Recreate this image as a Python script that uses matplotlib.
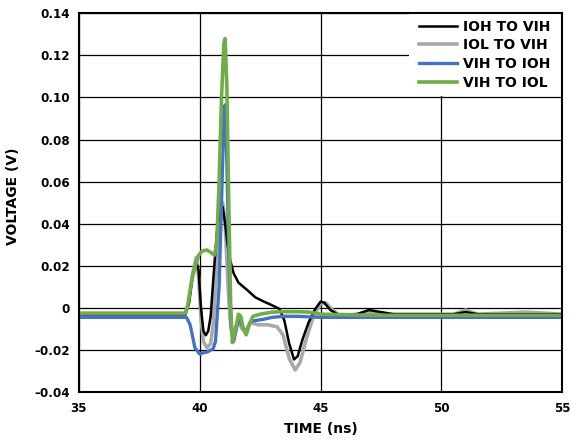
import matplotlib
matplotlib.use("Agg")
import matplotlib.pyplot as plt
from matplotlib.patches import Rectangle

# IOH TO VIH (black)
t_ioh_vih = [35, 39.4, 39.55, 39.7, 39.85, 39.95, 40.05, 40.15, 40.25, 40.35, 40.45, 40.55, 40.7,
             40.85, 40.95, 41.05, 41.15, 41.25, 41.4, 41.6, 41.95, 42.3, 42.65, 43.0, 43.3, 43.5,
             43.7, 43.9, 44.05, 44.25, 44.5, 44.75, 45.0, 45.15, 45.4, 45.7, 46.5, 47.0, 47.5, 48,
             50.5, 51, 51.5, 55]
v_ioh_vih = [-0.003, -0.003, 0.002, 0.015, 0.022, 0.018, 0.0, -0.011, -0.013, -0.011, -0.004, 0.012,
             0.035, 0.047, 0.048, 0.04, 0.03, 0.023, 0.0165, 0.012, 0.0086, 0.005, 0.003, 0.0012,
             -0.0005, -0.006, -0.017, -0.0245, -0.023, -0.015, -0.007, -0.001, 0.003, 0.0025,
             -0.001, -0.003, -0.003, -0.001, -0.002, -0.003, -0.003, -0.002, -0.003, -0.003]

# IOL TO VIH (grey)
t_iol_vih = [35, 39.4, 39.55, 39.7, 39.85, 39.95, 40.05, 40.15, 40.3, 40.45, 40.55, 40.7, 40.85,
             40.95, 41.05, 41.15, 41.25, 41.35, 41.45, 41.6, 41.75, 41.9, 42.1, 42.4, 42.8, 43.2,
             43.45, 43.7, 43.95, 44.15, 44.4, 44.7, 45.0, 45.2, 45.5, 45.8, 46.5, 47, 48, 50.5,
             51.0, 51.5, 53.5, 55]
v_iol_vih = [-0.003, -0.003, 0.003, 0.016, 0.024, 0.015, -0.005, -0.016, -0.019, -0.017, -0.008,
             0.02, 0.045, 0.05, 0.04, 0.015, -0.005, -0.013, -0.01, -0.006, -0.01, -0.011, -0.007,
             -0.008, -0.008, -0.009, -0.013, -0.024, -0.0295, -0.026, -0.015, -0.004, 0.002,
             0.0025, -0.001, -0.004, -0.003, -0.002, -0.003, -0.003, -0.001, -0.003, -0.002, -0.003]

# VIH TO IOH (blue)
t_vih_ioh = [35, 39.45, 39.6, 39.8, 40.0, 40.1, 40.3, 40.55, 40.65, 40.8, 40.9, 41.0, 41.05, 41.12,
             41.2, 41.3, 41.4, 41.5, 41.6, 41.7, 41.85, 41.95, 42.1, 42.3, 42.6, 43.0, 43.5, 44,
             45, 47, 50, 55]
v_vih_ioh = [-0.0045, -0.0045, -0.008, -0.019, -0.022, -0.0215, -0.021, -0.0195, -0.016, 0.01,
             0.05, 0.092, 0.0965, 0.07, 0.025, -0.01, -0.016, -0.011, -0.005, -0.007, -0.011,
             -0.0105, -0.0065, -0.006, -0.0055, -0.0045, -0.004, -0.004, -0.0045, -0.0045,
             -0.0045, -0.0045]

# VIH TO IOL (green)
t_vih_iol = [35, 39.4, 39.5, 39.65, 39.8, 39.95, 40.1, 40.3, 40.5, 40.6, 40.7, 40.8, 40.9, 41.0,
             41.05, 41.12, 41.2, 41.28, 41.35, 41.45, 41.6, 41.7, 41.8, 41.92, 42.05, 42.2, 42.5,
             43.0, 43.5, 44, 44.5, 45, 47, 50, 55]
v_vih_iol = [-0.0025, -0.0025, 0.001, 0.012, 0.0195, 0.025, 0.027, 0.0275, 0.026, 0.025, 0.03,
             0.06, 0.1, 0.126, 0.128, 0.105, 0.05, 0.0, -0.0165, -0.012, -0.003, -0.004, -0.01,
             -0.0128, -0.008, -0.004, -0.003, -0.002, -0.0018, -0.0018, -0.002, -0.003,
             -0.0035, -0.0035, -0.0035]

x_ticks = [35, 40, 45, 50, 55]
y_ticks = [-0.04, -0.02, 0, 0.02, 0.04, 0.06, 0.08, 0.10, 0.12, 0.14]
y_labels = ["\u20130.04", "\u20130.02", "0", "0.02", "0.04", "0.06", "0.08", "0.10", "0.12", "0.14"]

plt.rcParams['font.family'] = ['DejaVu Sans']
plt.rcParams['font.weight'] = 'bold'

fig = plt.figure(figsize=(5.72, 4.42), dpi=100)
ax = fig.add_axes([0.138, 0.113, 0.845, 0.857])

ax.plot(t_iol_vih, v_iol_vih, color='#a9a9a9', lw=2.6, label='IOL TO VIH', zorder=3)
ax.plot(t_ioh_vih, v_ioh_vih, color='black', lw=1.8, label='IOH TO VIH', zorder=4)
ax.plot(t_vih_ioh, v_vih_ioh, color='#4472c4', lw=2.4, label='VIH TO IOH', zorder=5)
ax.plot(t_vih_iol, v_vih_iol, color='#70ad47', lw=2.6, label='VIH TO IOL', zorder=6)

ax.set_xlim(35, 55)
ax.set_ylim(-0.04, 0.14)
ax.set_xticks(x_ticks)
ax.set_yticks(y_ticks)
ax.set_yticklabels(y_labels)
ax.tick_params(length=0, labelsize=8.6)
ax.tick_params(axis='x', pad=7)
ax.tick_params(axis='y', pad=6.5)
ax.grid(True, color='black', lw=0.9)
ax.set_axisbelow(True)
for s in ax.spines.values():
    s.set_linewidth(1.5)
    s.set_zorder(12)

ax.set_xlabel('TIME (ns)', fontsize=10, fontweight='bold', labelpad=5)
ax.set_ylabel('VOLTAGE (V)', fontsize=10, fontweight='bold')
ax.yaxis.set_label_coords(-0.122, 0.516)

# white area behind the legend (hides grid there)
ax.add_patch(Rectangle((0.683, 0.782), 0.317, 0.218, transform=ax.transAxes,
                       facecolor='white', edgecolor='none', zorder=8))

handles, labels = ax.get_legend_handles_labels()
order = [1, 0, 2, 3]
leg = ax.legend([handles[i] for i in order], [labels[i] for i in order], loc='upper right',
                bbox_to_anchor=(1 - 6 / 483, 1.0), fontsize=10, frameon=False,
                borderaxespad=0, handlelength=2.7, labelspacing=0.34, handletextpad=0.43,
                borderpad=0.45)
leg.set_zorder(10)

fig.savefig('out.png', dpi=100)
